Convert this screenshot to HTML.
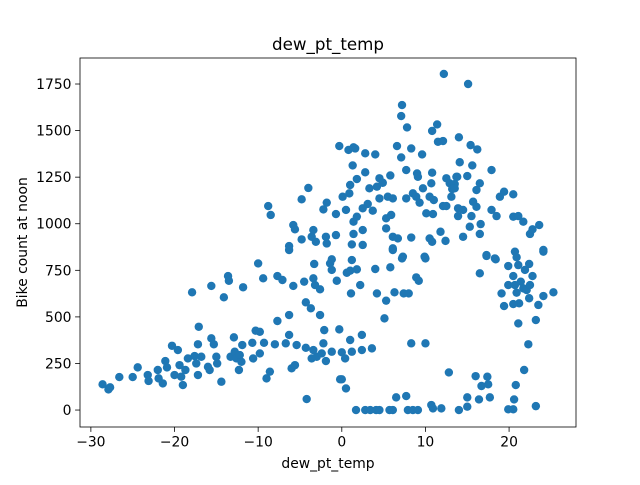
<!DOCTYPE html>
<html><head><meta charset="utf-8"><style>
body{margin:0;background:#fff;font-family:"Liberation Sans","DejaVu Sans",sans-serif}
svg text{font-family:"DejaVu Sans","Liberation Sans",sans-serif}
</style></head><body>
<svg id="chart" width="640" height="480" xmlns="http://www.w3.org/2000/svg">
<rect width="640" height="480" fill="#fff"/>
<text x="328" y="50" font-size="16.7" text-anchor="middle">dew_pt_temp</text>
<text x="328" y="468" font-size="13.9" text-anchor="middle">dew_pt_temp</text>
<text transform="translate(27,242.5) rotate(-90)" font-size="13.9" text-anchor="middle">Bike count at noon</text>
<g id="points"></g>
<g id="axes"></g>
</svg>
<script>
const xs=[-28.6,-27.9,-27.7,-26.6,-25.0,-24.4,-23.2,-23.1,-22.0,-21.9,-21.4,-21.1,-20.9,-20.3,-19.6,-20.0,-19.4,-19.0,-19.2,-18.7,-18.4,-17.9,-17.6,-17.4,-17.2,-17.1,-17.2,-16.8,-16.0,-15.8,-15.6,-15.6,-15.3,-15.0,-14.9,-14.4,-14.1,-13.6,-13.5,-13.3,-12.9,-12.8,-12.6,-12.2,-12.3,-11.9,-11.8,-12.0,-10.7,-10.6,-10.3,-9.8,-10.0,-9.8,-9.4,-9.3,-9.0,-8.6,-8.0,-7.7,-7.7,-7.1,-6.3,-6.3,-6.7,-6.0,-5.6,-5.8,-5.4,-4.5,-4.3,-4.3,-4.2,-3.7,-3.4,-3.2,-3.4,-3.6,-3.0,-2.6,-2.6,-2.4,-2.1,-1.9,-2.2,-3.3,-1.4,-1.2,-1.2,-0.6,-0.3,-0.2,-6.3,
0.6,1.2,1.0,1.8,1.1,2.2,4.0,4.2,5.3,5.1,5.8,6.3,7.2,7.4,8.0,8.9,9.2,10.0,6.1,16.5,17.3,18.4,19.1,19.4,19.9,20.5,20.7,20.9,21.1,19.9,20.7,20.9,21.2,20.5,21.4,21.7,22.1,22.4,21.9,22.4,22.8,22.5,21.1,23.5,24.1,25.3,23.2,22.3,24.1,21.8,
1.7,2.8,3.4,4.1,4.5,5.7,6.1,7.9,8.5,9.1,10.7,10.9,11.9,14.0,15.0,15.0,16.4,17.7,19.9,20.5,23.2,20.6,20.8,6.5,7.7,0.5,0.0,12.8,16.0,17.4,16.7,17.5,8.3,10.0,0.0,0.4,1.0,1.2,2.4,2.4,3.6,
12.2,15.1,7.2,7.1,7.8,11.4,10.8,14.0,11.5,12.1,15.4,16.2,-0.3,0.8,1.4,1.6,2.8,4.0,6.6,8.3,9.6,7.1,1.3,2.8,7.7,9.0,9.1,10.8,14.1,15.6,17.9,15.0,13.7,5.8,4.5,1.8,-4.0,-4.8,-8.8,-8.5,1.0,3.3,4.2,4.9,9.7,10.7,12.5,12.9,13.5,13.8,13.2,13.5,16.5,16.1,0.9,0.1,4.5,5.5,6.1,7.7,8.5,8.9,9.3,10.5,11.0,12.1,12.5,13.1,18.9,19.4,20.5,15.7,16.1,17.9,18.5,13.9,14.5,13.9,15.5,-1.8,-2.2,-0.7,0.5,2.5,3.1,3.7,1.4,1.8,2.5,5.3,5.3,5.9,10.1,10.9,-5.8,-5.6,-3.4,-3.6,-3.1,-4.8,-6.3,-1.9,-1.8,-0.7,1.2,2.5,1.4,6.1,6.7,6.1,8.3,10.5,10.8,11.8,12.4,14.5,15.3,16.6,16.5,20.5,21.1,21.7,22.5,22.8,23.6,24.1,17.3,18.3,7.3,9.9,-1.2];
const ys=[138,111,122,177,177,229,188,156,215,170,143,263,229,345,322,188,241,134,179,215,277,632,290,250,188,447,353,286,232,215,385,666,353,286,250,152,605,719,694,286,390,313,277,295,215,349,659,259,361,277,426,420,787,304,707,361,170,206,353,478,719,698,510,403,358,224,241,666,349,689,578,334,59,546,707,671,322,277,286,648,510,304,429,263,358,784,787,752,313,694,433,165,859,
737,805,748,755,626,671,757,626,587,492,766,632,814,626,626,712,694,814,859,734,827,809,626,558,773,719,850,820,778,671,671,630,573,569,689,653,644,600,752,784,719,671,465,564,612,632,483,353,850,215,
0,0,0,0,0,0,0,0,0,0,27,9,9,0,18,68,57,68,4,4,21,57,134,68,75,116,165,202,182,179,129,138,358,358,310,277,376,313,403,322,331,
1804,1750,1637,1578,1517,1533,1498,1464,1440,1444,1422,1399,1417,1396,1410,1404,1378,1372,1417,1404,1372,1356,1313,1276,1288,1270,1252,1274,1330,1313,1288,1256,1252,1259,1244,1240,1192,1131,1095,1047,1208,1190,1199,1220,1190,1217,1244,1217,1213,1252,1186,1190,1217,1181,1163,1145,1136,1145,1136,1136,1163,1145,1113,1145,1127,1095,1095,1145,1145,1172,1158,1118,1091,1074,1041,1083,1074,1041,1041,1113,1077,1052,1074,1083,1106,1070,1011,1038,966,1029,975,1047,1056,1052,993,970,966,930,903,916,880,930,894,939,889,886,945,930,921,868,926,921,903,957,908,930,984,998,945,1038,1041,1011,945,970,993,859,832,814,823,823,809];
const xTicks=[-30,-20,-10,0,10,20];
const yTicks=[0,250,500,750,1000,1250,1500,1750];
const L=80,R=576,T=58,B=427;
const xMin=-31.3,xMax=28.0,yMin=-91,yMax=1889.6;
function sx(v){return L+(v-xMin)/(xMax-xMin)*(R-L);}
function sy(v){return B-(v-yMin)/(yMax-yMin)*(B-T);}
const NS="http://www.w3.org/2000/svg";
const pg=document.getElementById('points');
for(let i=0;i<xs.length;i++){
  const c=document.createElementNS(NS,'circle');
  c.setAttribute('cx',sx(xs[i]));c.setAttribute('cy',sy(ys[i]));c.setAttribute('r',4.2);c.setAttribute('fill','#1f77b4');
  
  
  pg.appendChild(c);
}
const ag=document.getElementById('axes');
const fr=document.createElementNS(NS,'rect');
fr.setAttribute('x',L);fr.setAttribute('y',T);fr.setAttribute('width',R-L);fr.setAttribute('height',B-T);fr.setAttribute('fill','none');fr.setAttribute('stroke','#000');fr.setAttribute('stroke-width','0.8');


ag.appendChild(fr);
xTicks.forEach(t=>{
  const x=sx(t);
  const l=document.createElementNS(NS,'line');
  l.setAttribute('x1',x);l.setAttribute('x2',x);l.setAttribute('y1',B);l.setAttribute('y2',B+4.9);l.setAttribute('stroke','#000');l.setAttribute('stroke-width','0.8');
  
  
  ag.appendChild(l);
  const tx=document.createElementNS(NS,'text');
  tx.setAttribute('x',x);tx.setAttribute('y',B+19.5);tx.setAttribute('font-size','13.9');tx.setAttribute('text-anchor','middle');
  tx.textContent=(t<0?'\u2212'+(-t):t);
  
  
  ag.appendChild(tx);
});
yTicks.forEach(t=>{
  const y=sy(t);
  const l=document.createElementNS(NS,'line');
  l.setAttribute('x1',L-4.9);l.setAttribute('x2',L);l.setAttribute('y1',y);l.setAttribute('y2',y);l.setAttribute('stroke','#000');l.setAttribute('stroke-width','0.8');
  
  
  ag.appendChild(l);
  const tx=document.createElementNS(NS,'text');
  tx.setAttribute('x',L-8.5);tx.setAttribute('y',y+5);tx.setAttribute('font-size','13.9');tx.setAttribute('text-anchor','end');
  tx.textContent=t;
  
  
  ag.appendChild(tx);
});
</script>
</body></html>
